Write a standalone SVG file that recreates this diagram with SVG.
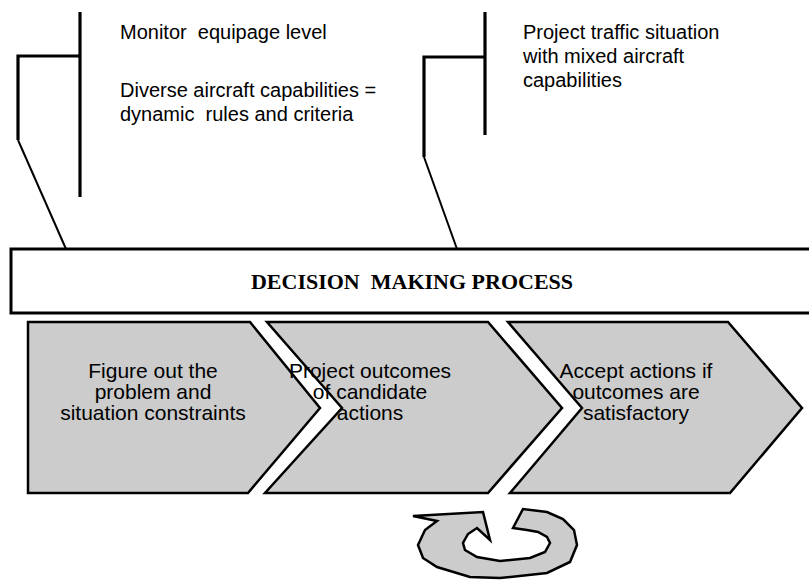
<svg xmlns="http://www.w3.org/2000/svg" width="809" height="580" viewBox="0 0 809 580">
<style>
text{white-space:pre}
.t{font-family:"Liberation Sans",Arial,sans-serif;font-size:20px;fill:#000}
.c{text-anchor:middle;font-size:21px}
.chev{fill:#cccccc;stroke:#000;stroke-width:2.5;stroke-linejoin:miter}
.ln{fill:none;stroke:#000;stroke-width:3.2}
.dg{fill:none;stroke:#000;stroke-width:2}
</style>
<rect width="809" height="580" fill="#fff"/>
<g id="connectors">
<line class="ln" x1="80" y1="12" x2="80" y2="197"/>
<polyline class="ln" points="80,56 18,56 18,140"/>
<line class="dg" x1="18" y1="140" x2="66" y2="249"/>
<line class="ln" x1="485" y1="12" x2="485" y2="135"/>
<polyline class="ln" points="485,57 424,57 424,157"/>
<line class="dg" x1="424" y1="157" x2="457" y2="249"/>
</g>
<g id="note-left">
<text class="t" x="120" y="39" xml:space="preserve">Monitor  equipage level</text>
<text class="t" x="120" y="97">Diverse aircraft capabilities =</text>
<text class="t" x="120" y="121" xml:space="preserve">dynamic  rules and criteria</text>
</g>
<g id="note-right">
<text class="t" x="523" y="39">Project traffic situation</text>
<text class="t" x="523" y="63">with mixed aircraft</text>
<text class="t" x="523" y="87">capabilities</text>
</g>
<g id="decision">
<rect x="11" y="249" width="820" height="64" fill="#fff" stroke="#000" stroke-width="3"/>
<text x="412" y="289" text-anchor="middle" xml:space="preserve" style="font-family:'Liberation Serif','Times New Roman',serif;font-size:22px;font-weight:bold">DECISION  MAKING PROCESS</text>
</g>
<g id="step1">
<polygon class="chev" points="28,322 250,322 320,408 248,493 28,493"/>
<text class="t c" x="153" y="378">Figure out the</text>
<text class="t c" x="153" y="399">problem and</text>
<text class="t c" x="153" y="420">situation constraints</text>
</g>
<g id="step2">
<polygon class="chev" points="267,322 488,322 562,408 488,493 265,493 342,408"/>
<text class="t c" x="370" y="378">Project outcomes</text>
<text class="t c" x="370" y="399">of candidate</text>
<text class="t c" x="370" y="420">actions</text>
</g>
<g id="step3">
<polygon class="chev" points="508,322 728,322 802,408 730,493 510,493 582,408"/>
<text class="t c" x="636" y="378">Accept actions if</text>
<text class="t c" x="636" y="399">outcomes are</text>
<text class="t c" x="636" y="420">satisfactory</text>
</g>
<g id="cycle">
<path class="chev" stroke-width="3" d="M413,516 L483,512 L490,540 L477,528 L468,534 L463,543 L465,550 L477,557 L500,561 L530,558 L545,552 L550,543 L547,537 L538,532 L527,530 L513,528 L523,509 L547,512 L563,519 L574,530 L577,545 L570,562 L547,573 L500,578 L470,577 L437,567 L423,558 L418,545 L425,530 L437,521 Z"/>
</g>
</svg>
